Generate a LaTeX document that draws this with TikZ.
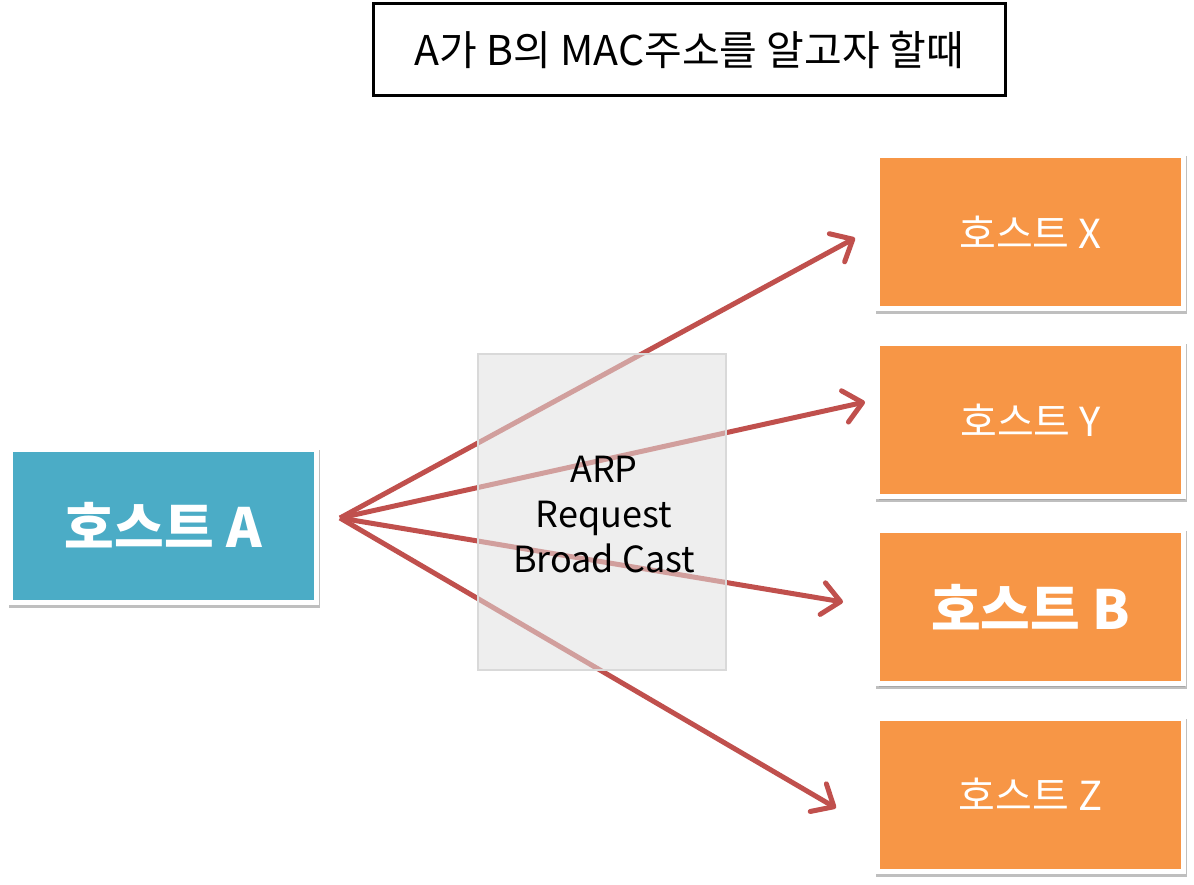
\documentclass[tikz,border=0pt]{standalone}
\usepackage{fontspec}
\setmainfont{Noto Sans CJK KR}
\usetikzlibrary{arrows.meta,shadows}
\definecolor{hostorange}{HTML}{F79646}
\definecolor{hostcyan}{HTML}{4BACC6}
\definecolor{arpred}{HTML}{C0504D}
\definecolor{arpgray}{HTML}{E0E0E0}
\tikzset{
  hostbox/.style={fill=hostorange, draw=white, line width=5pt,
    minimum width=306pt, minimum height=153pt, text=white,
    font=\fontsize{40}{44}\selectfont,
    drop shadow={shadow xshift=1pt, shadow yshift=-3pt, opacity=.25,
      draw=black, line width=5pt}},
  bcast/.style={draw=arpred, line width=5pt,
    -{Straight Barb[length=18pt,width=32pt,round]}},
}

\begin{document}
\begin{tikzpicture}[x=1pt,y=-1pt]
            \useasboundingbox (0,0) rectangle (1194,885);
            % question
            \node[draw=black, line width=3pt, minimum width=632pt, minimum height=92pt,
                  font=\fontsize{41}{45}\selectfont] (title) at (689.5,49.5) {A가 B의 MAC주소를 알고자 할때};
            % hosts
            \node[hostbox, fill=hostcyan, font=\fontsize{54}{58}\bfseries] (hostA) at (163.5,525.5) {호스트 A};
            \node[hostbox] (hostX) at (1030.5,232) {호스트 X};
            \node[hostbox] (hostY) at (1030.5,420) {호스트 Y};
            \node[hostbox, font=\fontsize{54}{58}\bfseries] (hostB) at (1030.5,607) {호스트 B};
            \node[hostbox] (hostZ) at (1030.5,794.5) {호스트 Z};
            % broadcast
            \coordinate (src) at (340,518);
            \draw[bcast] (src) -- ([xshift=-20pt,yshift=-6pt]hostX.west);
            \draw[bcast] (src) -- ([xshift=-10pt,yshift=18pt]hostY.west);
            \draw[bcast] (src) -- ([xshift=-32pt,yshift=5pt]hostB.west);
            \draw[bcast] (src) -- ([xshift=-39pt,yshift=-13.5pt]hostZ.west);
            \node[fill=arpgray, fill opacity=.55, draw=gray!30, line width=1.5pt,
                  minimum width=248pt, minimum height=316pt] (arp) at (602,512) {};
            \node[align=center, font=\fontsize{36}{45}\selectfont] (arptext) at (604,515) {ARP\\Request\\Broad Cast};
\end{tikzpicture}
\end{document}
